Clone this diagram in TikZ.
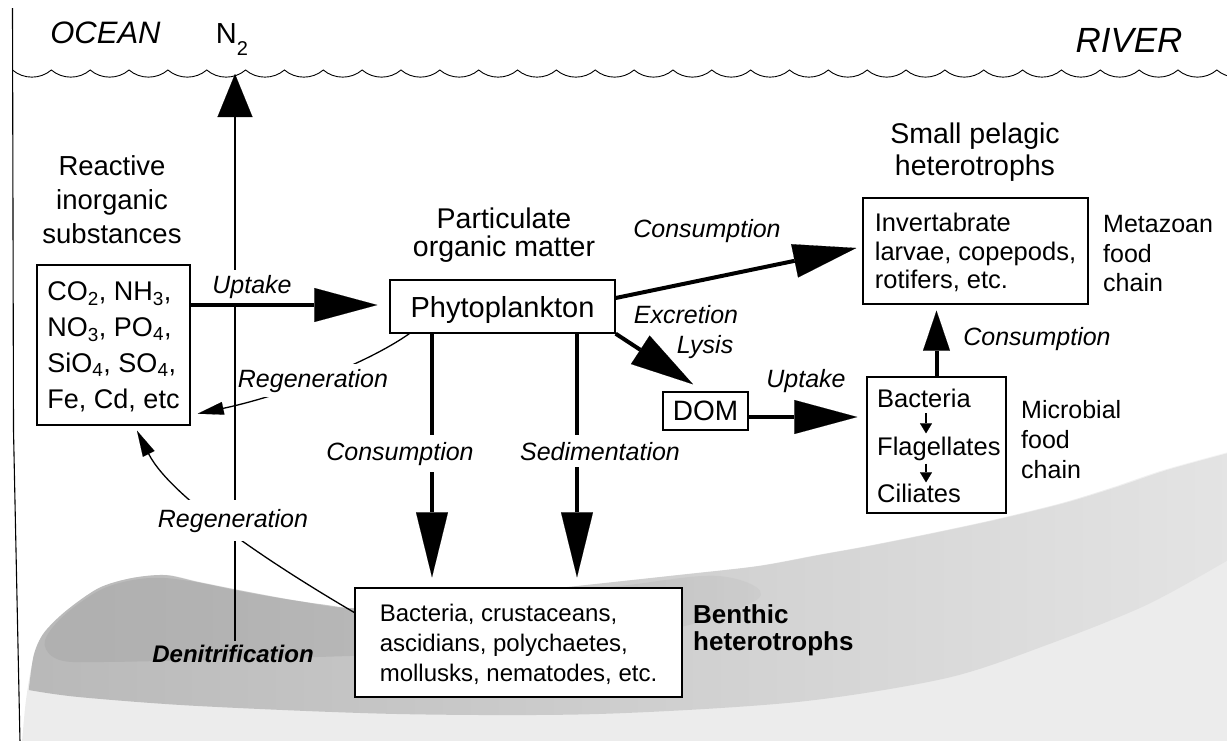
\documentclass[tikz,border=0pt]{standalone}
\usepackage{fontspec}
\setmainfont{Liberation Sans}
\usetikzlibrary{arrows.meta,fadings}
\tikzfading[name=sedfade, left color=transparent!0, middle color=transparent!15, right color=transparent!85]
\begin{document}
\begin{tikzpicture}[x=1pt,y=-1pt,
 box/.style={draw, line width=1.4pt, fill=white, inner sep=0pt, text depth=0pt},
 hdr/.style={align=center, inner sep=0pt, anchor=north},
 side/.style={align=left, inner sep=0pt, anchor=north west},
 itl/.style={font=\itshape\fontsize{25}{30}\selectfont, anchor=base, inner sep=0pt},
 witl/.style={itl, fill=white, inner sep=5pt},
 flow/.style={line width=4pt, -{Triangle[length=63pt,width=34pt,line width=0.1pt]}},
 flowv/.style={line width=4.5pt, -{Triangle[length=65pt,width=32pt,line width=0.1pt]}},
 flowup/.style={line width=4pt, -{Triangle[length=40pt,width=27pt,line width=0.1pt]}},
 thinflow/.style={line width=1.3pt, -{Triangle[length=26pt,width=13pt,line width=0.1pt]}},
 nflow/.style={line width=1.2pt, -{Triangle[length=43pt,width=35pt,line width=0.1pt]}},
 tinyflow/.style={line width=2.2pt, -{Triangle[length=10pt,width=12pt,line width=0.1pt]}}
]
\useasboundingbox (0,0) rectangle (1227,740);

% sediment
\fill[gray!15] plot[smooth] coordinates {(22,742) (26,700) (33,660) (45,633) (67,611) (100,588) (133,578) (167,575) (200,582) (250,592) (300,601) (355,608) (450,600) (560,588) (680,575) (760,566) (820,555) (870,546) (935,533) (1000,519) (1065,503) (1117,487) (1167,470) (1232,452)} -- (1232,742) -- cycle;
\fill[gray!55, path fading=sedfade] plot[smooth] coordinates {(30,690) (35,655) (45,633) (67,611) (100,588) (133,578) (167,575) (200,582) (250,592) (300,601) (355,608) (450,600) (560,588) (680,575) (760,566) (820,555) (870,546) (935,533) (1000,519) (1065,503) (1117,487) (1167,470) (1232,452)} -- plot[smooth] coordinates {(1232,560) (1150,605) (1050,645) (950,678) (800,702) (600,714) (400,714) (200,706) (80,697) (30,690)} -- cycle;
\fill[gray!62, path fading=sedfade] plot[smooth cycle, tension=0.6] coordinates {(45,645) (55,625) (80,603) (110,586) (150,578) (190,581) (250,593) (320,604) (380,609) (500,598) (620,586) (720,576) (760,598) (660,632) (500,650) (350,656) (200,660) (100,662) (60,660)};

% water surface and left edge
\draw[line width=1.1pt] (12.5,8) -- (13.5,430) -- (20,742);
\draw[line width=0.9pt] (12.5,70) foreach \k in {0,...,31} { .. controls ({12.5+\k*38.85+11},79.5) and ({12.5+(\k+1)*38.85-11},79.5) .. ({12.5+(\k+1)*38.85},70) };

% headings
\node[itl, font=\itshape\fontsize{31}{31}\selectfont] (ocean) at (105.5,43) {OCEAN};
\node[font=\fontsize{29}{29}\selectfont, anchor=base, inner sep=0pt] (n2) at (232,43) {N\raisebox{-12pt}{\fontsize{20}{20}\selectfont 2}};
\node[itl, font=\itshape\fontsize{35}{35}\selectfont] (river) at (1129,52) {RIVER};

\node[hdr, font=\fontsize{27.5}{34}\selectfont] (react) at (112,155.3) {Reactive\\inorganic\\substances};
\node[hdr, font=\fontsize{28.5}{28.5}\selectfont] (partic) at (504,207.6) {Particulate\\organic matter};
\node[hdr, font=\fontsize{28.5}{32}\selectfont] (pelagic) at (975,122.6) {Small pelagic\\heterotrophs};

% boxes
\node[box, font=\fontsize{27}{36}\selectfont, align=left, minimum width=153pt, minimum height=160pt] (co2) at (113.5,345) {CO\textsubscript{2}, NH\textsubscript{3},\\NO\textsubscript{3}, PO\textsubscript{4},\\SiO\textsubscript{4}, SO\textsubscript{4},\\Fe, Cd, etc};
\node[box, font=\fontsize{29}{29}\selectfont, minimum width=225pt, minimum height=53pt] (phyto) at (502.5,306.5) {Phytoplankton};
\node[box, font=\fontsize{28}{28}\selectfont, minimum width=85pt, minimum height=38pt] (dom) at (705.5,411) {DOM};
\node[box, font=\fontsize{25.5}{28.5}\selectfont, align=left, minimum width=225pt, minimum height=106pt] (invert) at (975.5,251) {Invertabrate\\larvae, copepods,\\rotifers, etc.};
\node[box, minimum width=139pt, minimum height=136pt] (mbox) at (936.5,445) {};
\node[box, font=\fontsize{24}{30}\selectfont, align=left, minimum width=327pt, minimum height=109pt] (benthic) at (518.5,642.5) {Bacteria, crustaceans,\\ascidians, polychaetes,\\mollusks, nematodes, etc.};

% microbial chain
\node[font=\fontsize{25.5}{30}\selectfont, anchor=base west, inner sep=0pt] (bac) at (877,407) {Bacteria};
\node[font=\fontsize{25.5}{30}\selectfont, anchor=base west, inner sep=0pt] (flag) at (877,455) {Flagellates};
\node[font=\fontsize{25.5}{30}\selectfont, anchor=base west, inner sep=0pt] (cil) at (877,502) {Ciliates};
\coordinate (ax) at (926,0);
\draw[tinyflow, shorten <=6pt, shorten >=3pt] (bac.south -| ax) -- (flag.north -| ax);
\draw[tinyflow, shorten <=3pt, shorten >=1pt] (flag.south -| ax) -- (cil.north -| ax);

% side labels
\node[side, font=\fontsize{25}{29.5}\selectfont] (meta) at (1103,215.1) {Metazoan\\food\\chain};
\node[side, font=\fontsize{25}{30}\selectfont] (microb) at (1021,400.1) {Microbial\\food\\chain};
\node[side, font=\bfseries\fontsize{26}{27}\selectfont] (benlab) at (693,604.4) {Benthic\\heterotrophs};
\node[font=\bfseries\itshape\fontsize{24}{24}\selectfont, anchor=base] (denit) at (233,662) {Denitrification};

% N2 escape
\coordinate (surf) at (235,74);
\draw[nflow] (denit.north -| surf) -- (surf);

% flows
\draw[flow] ([yshift=40pt]co2.east) -- ([xshift=-12pt,yshift=1.5pt]phyto.west);
\draw[flow] ([yshift=8.5pt]phyto.east) -- ([xshift=-6pt,yshift=3pt]invert.west);
\draw[flow] (phyto.south east) -- ([xshift=-12.5pt,yshift=7pt]dom.north);
\draw[flow] ([yshift=-6pt]dom.east) -- ([xshift=-9pt,yshift=28pt]mbox.west);
\draw[flowup, shorten >=6pt] (mbox.north) -- (mbox.north |- invert.south);
\coordinate (vx1) at (432,0);
\coordinate (vx2) at (577,0);
\draw[flowv, shorten >=10pt] (phyto.south -| vx1) -- (benthic.north -| vx1);
\draw[flowv, shorten >=10pt] (phyto.south -| vx2) -- (benthic.north -| vx2);
\draw[thinflow] ([xshift=20pt]phyto.south west) .. controls (363,366) and (277,397) .. ([xshift=7pt,yshift=12pt]co2.south east);
\draw[thinflow] ([yshift=30pt]benthic.west) .. controls (285,572) and (172,500) .. ([xshift=23.5pt,yshift=-5pt]co2.south);

% flow labels
\node[witl] (upt1) at (252,293) {Uptake};
\node[witl, inner xsep=1pt] (regen1) at (313,387) {Regeneration};
\node[itl] (cons1) at (707,237) {Consumption};
\node[itl] (excr) at (686,323) {Excretion};
\node[itl] (lysis) at (705,353) {Lysis};
\node[itl] (upt2) at (806,387) {Uptake};
\node[itl] (cons2) at (1037,345) {Consumption};
\node[witl, inner ysep=7pt] (cons3) at (400,460) {Consumption};
\node[witl, inner ysep=7pt] (sedim) at (600,460) {Sedimentation};
\node[witl, inner ysep=9pt] (regen2) at (233,527) {Regeneration};
\end{tikzpicture}
\end{document}
